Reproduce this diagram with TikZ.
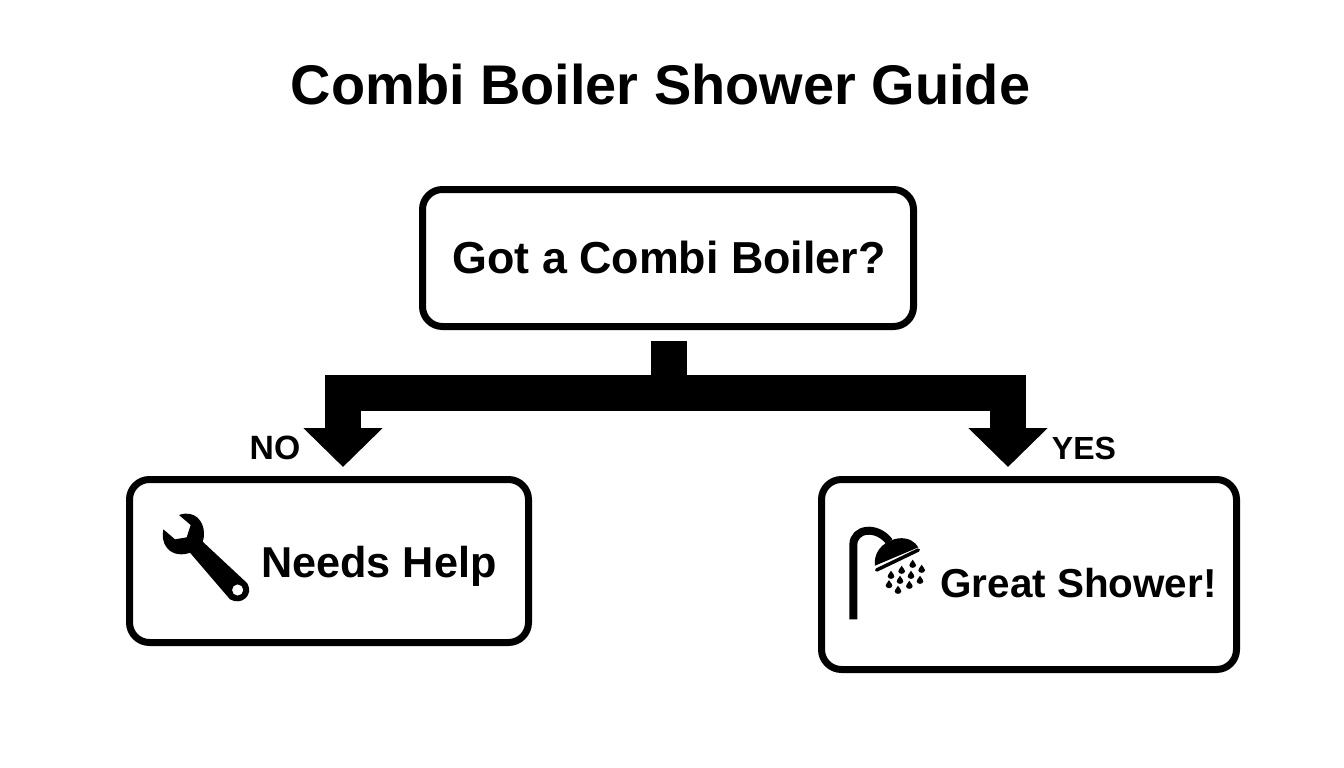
\documentclass[tikz,border=0pt]{standalone}
\usepackage{fontspec}
\setmainfont{Liberation Sans}
\usetikzlibrary{arrows.meta}
\tikzset{
  box/.style={draw=black,line width=7pt,rounded corners=20pt,inner sep=0pt},
  flow/.style={draw=black,line width=36pt,line join=miter},
  tip/.style={-{Triangle[length=39pt,width=77pt]}},
  word/.style={font=\fontsize{#1}{#1}\selectfont\bfseries,inner sep=0pt,anchor=base}
}
\begin{document}
\begin{tikzpicture}[x=1pt,y=-1pt]
\useasboundingbox (0,0) rectangle (1344,768);
\node[word=55.9] (title) at (660.5,104) {Combi Boiler Shower Guide};
\node[box,minimum width=491pt,minimum height=137pt] (boiler) at (668,258) {};
\node[word=44.8] (boilertext) at (669,273) {Got a Combi Boiler?};
\node[box,minimum width=399pt,minimum height=163pt] (needs) at (329,561) {};
\node[word=43.2] (needstext) at (379,577) {Needs Help};
\node[box,minimum width=415pt,minimum height=190pt] (great) at (1029,574.5) {};
\node[word=40.4] (greattext) at (1078.5,597) {Great Shower!};
\node[word=33.7] (no) at (275,459) {NO};
\node[word=32] (yes) at (1084,459) {YES};
\coordinate (stub) at (668.5,341);
\coordinate (split) at (668.5,393);
\coordinate (tipno) at (343,467);
\coordinate (tipyes) at (1008,467);
\draw[flow] (stub) -- (split);
\draw[flow,tip] (split) -| (tipno);
\draw[flow,tip] (split) -| (tipyes);
\begin{scope}[shift={(130,480)},scale=1/3]
\fill[even odd rule] (147,105) .. controls (195,88) and (222,125) .. (222,160) .. controls (222,170) and (221,178) .. (218,185) -- (352,310) .. controls (372,345) and (335,378) .. (300,358) -- (180,218) .. controls (160,226) and (130,226) .. (112,205) .. controls (98,190) and (96,165) .. (100,148) -- (135,178) -- (170,172) -- (182,135) -- cycle (340,330) arc[start angle=0,end angle=360,radius=17];
\end{scope}
\begin{scope}[shift={(830,500)},scale=1/3]
\draw[line width=8pt] (70,358) -- (70,135) .. controls (70,85) and (140,75) .. (178,125);
\fill (135,197) .. controls (130,165) and (150,125) .. (205,115) .. controls (235,112) and (255,125) .. (265,142) -- cycle;
\draw[line width=3.5pt,line cap=round] (140,210) -- (265,150);
\foreach \dropx/\dropy in {183/225,215/210,248/192,275/207,243/225,210/240,177/253,204/270,238/255,270/240}
  \fill (\dropx,\dropy-13) .. controls (\dropx+5,\dropy-4) and (\dropx+11,\dropy) .. (\dropx+10,\dropy+4) .. controls (\dropx+9,\dropy+14) and (\dropx-9,\dropy+14) .. (\dropx-10,\dropy+4) .. controls (\dropx-11,\dropy) and (\dropx-5,\dropy-4) .. cycle;
\end{scope}
\end{tikzpicture}
\end{document}
